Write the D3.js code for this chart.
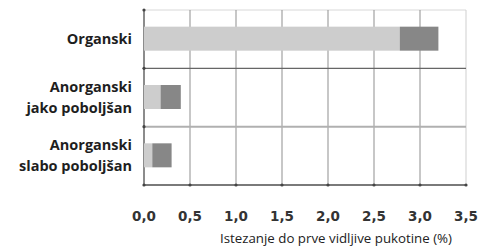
<!DOCTYPE html>
<html>
<head>
<meta charset="utf-8">
<script src="https://cdn.jsdelivr.net/npm/d3@7"></script>
<style>
  body { margin: 0; background: #fff; }
</style>
</head>
<body>
<div id="chart"></div>
<script>
var categories = [["Organski"], ["Anorganski", "jako poboljšan"], ["Anorganski", "slabo poboljšan"]];
var lightValues = [2.78, 0.18, 0.09];
var darkValues = [0.42, 0.22, 0.21];
var tickValues = [0, 0.5, 1, 1.5, 2, 2.5, 3, 3.5];
var axisTitle = "Istezanje do prve vidljive pukotine (%)";

var margin = {top: 10, left: 144},
    width = 322, height = 175;

var svg = d3.select("#chart").append("svg")
    .attr("width", 490).attr("height", 247);

var g = svg.append("g")
    .attr("transform", "translate(" + margin.left + "," + margin.top + ")");

var x = d3.scaleLinear().domain([0, 3.5]).range([0, width]);
var y = d3.scaleBand().domain(d3.range(categories.length)).range([0, height]);

// top border
g.append("line").attr("x1", 0).attr("x2", width).attr("y1", 0).attr("y2", 0)
    .attr("stroke", "#d8d8d8");

// vertical grid
g.selectAll(".vgrid").data(tickValues).enter().append("line")
    .attr("x1", function(d) { return x(d); }).attr("x2", function(d) { return x(d); })
    .attr("y1", 0).attr("y2", height)
    .attr("stroke", function(d, i) { return i == 0 ? "#666" : (d == 3.5 ? "#cfcfcf" : "#8f8f8f"); })
    .attr("stroke-width", function(d, i) { return i == 0 ? 1.5 : 1; });

// category separators
g.selectAll(".hgrid").data([1, 2, 3]).enter().append("line")
    .attr("x1", 0).attr("x2", width)
    .attr("y1", function(d) { return d * y.step(); })
    .attr("y2", function(d) { return d * y.step(); })
    .attr("stroke", function(d) { return d == 2 ? "#b0b0b0" : (d == 3 ? "#7a7a7a" : "#666"); })
    .attr("stroke-width", function(d) { return d == 1 ? 1.2 : 2; });

// small tick dots on the axis
g.selectAll(".tdot").data(tickValues).enter().append("circle")
    .attr("cx", function(d) { return x(d); }).attr("cy", height)
    .attr("r", 1.6).attr("fill", "#444");
g.selectAll(".ydot").data([0, 1, 2]).enter().append("circle")
    .attr("cx", 0).attr("cy", function(d) { return d * y.step(); })
    .attr("r", 1.6).attr("fill", "#444");

var barH = 24;
g.selectAll(".light").data(lightValues).enter().append("rect")
    .attr("x", x(0))
    .attr("y", function(d, i) { return y(i) + y.step() / 2 - barH / 2 - 0.5; })
    .attr("width", function(d) { return x(d) - x(0); })
    .attr("height", barH)
    .attr("fill", "#cdcdcd");

g.selectAll(".dark").data(darkValues).enter().append("rect")
    .attr("x", function(d, i) { return x(lightValues[i]); })
    .attr("y", function(d, i) { return y(i) + y.step() / 2 - barH / 2 - 0.5; })
    .attr("width", function(d, i) { return x(lightValues[i] + d) - x(lightValues[i]); })
    .attr("height", barH)
    .attr("fill", "#878787");

// x tick labels
g.selectAll(".tick").data(tickValues).enter().append("text")
    .attr("x", function(d) { return x(d); })
    .attr("y", 211)
    .attr("text-anchor", "middle")
    .style("font-family", "DejaVu Sans")
    .style("font-weight", "bold")
    .style("font-size", "13.5px")
    .style("fill", "#333")
    .text(function(d) { return d3.format(".1f")(d).replace(".", ","); });

g.append("text")
    .attr("x", 192).attr("y", 233)
    .attr("text-anchor", "middle")
    .style("font-family", "Open Sans")
    .style("font-size", "13.3px")
    .style("fill", "#222")
    .text(axisTitle);

// category labels
var labels = g.selectAll(".cat").data(categories).enter().append("text")
    .attr("text-anchor", "end")
    .attr("y", function(d, i) { return y(i) + y.step() / 2 + 5 - (d.length - 1) * 10.5; })
    .style("font-family", "Open Sans")
    .style("font-weight", "bold")
    .style("font-size", "14.5px")
    .style("fill", "#1e1e1e");

labels.selectAll("tspan").data(function(d) { return d; }).enter().append("tspan")
    .attr("x", -12)
    .attr("dy", function(d, i) { return i == 0 ? 0 : 21; })
    .text(function(d) { return d; });
</script>
</body>
</html>
